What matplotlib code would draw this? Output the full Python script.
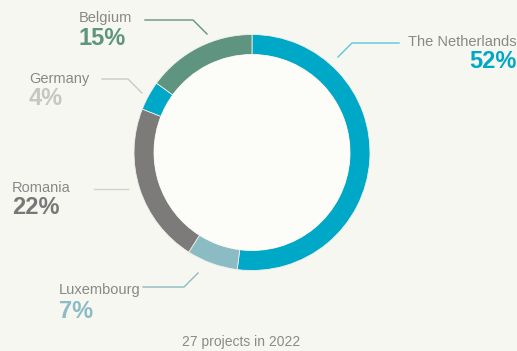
import matplotlib.pyplot as plt
from matplotlib.patches import Circle

# share of projects per country, clockwise from 12 o'clock
countries = ["The Netherlands", "Luxembourg", "Romania", "Germany", "Belgium"]
shares = [52, 7, 22, 4, 15]
colors = ["#00a8c8", "#8bbcc4", "#7c7b79", "#00a8c8", "#5f9480"]
pct_colors = ["#00a8c8", "#8bbcc4", "#787877", "#c6c6c2", "#5e9480"]
line_colors = ["#5cc6da", "#8bbcc4", "#d2d2ce", "#c9c9c5", "#5f9480"]
footer = "27 projects in 2022"

W, H = 517, 351
BG = "#f7f7f2"

# label layout in pixel coords: (name x, pct x, name baseline, pct baseline, align, leader points)
layout = {
    "The Netherlands": (517, 517, 46, 68, "right", [(399, 43), (352, 43), (338, 57)]),
    "Luxembourg": (59, 59, 294, 318, "left", [(143, 287), (184, 287), (198, 273)]),
    "Romania": (12, 12, 192, 214, "left", [(94, 189), (128, 189)]),
    "Germany": (29, 29, 83, 105, "left", [(102, 79), (128, 79), (142, 93)]),
    "Belgium": (79, 79, 22, 45, "left", [(145, 20), (193, 20), (207, 34)]),
}

fig = plt.figure(figsize=(W / 100, H / 100), dpi=100, facecolor=BG)
ax = fig.add_axes([0, 0, 1, 1])
ax.set_facecolor(BG)

cx, cy, r = 252, 152.5, 118


def py(y):
    return H - y


ax.pie(shares, colors=colors, startangle=90, counterclock=False,
       center=(cx, py(cy)), radius=r,
       wedgeprops=dict(width=20, linewidth=0.6, edgecolor="#eef0ec"))
ax.add_patch(Circle((cx, py(cy)), r - 20, facecolor="#fcfcf9", edgecolor="none"))

for name, share, pc, lc in zip(countries, shares, pct_colors, line_colors):
    xn, xp, yn, yp, ha, pts = layout[name]
    ax.text(xn, py(yn), name, ha=ha, va="baseline", fontsize=10.5,
            color="#888887", family="Liberation Sans")
    ax.text(xp, py(yp), f"{share}%", ha=ha, va="baseline", fontsize=17,
            fontweight="bold", color=pc, family="Liberation Sans")
    ax.plot([p[0] for p in pts], [py(p[1]) for p in pts], color=lc, lw=1)

ax.text(241, py(346), footer, ha="center", va="baseline", fontsize=10,
        color="#8a8a89", family="Liberation Sans")

ax.set_xlim(0, W)
ax.set_ylim(0, H)
ax.set_aspect("equal")
ax.axis("off")

fig.savefig("out.png", dpi=100, facecolor=BG)
